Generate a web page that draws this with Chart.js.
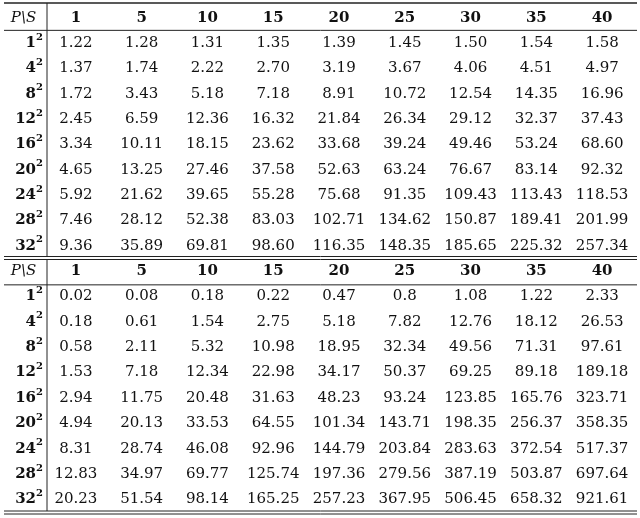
<!DOCTYPE html>
<html><head><meta charset="utf-8">
<script src="https://cdn.jsdelivr.net/npm/chart.js@4"></script>
<style>body{margin:0;background:#fff}#wrap{width:640px;height:518px}</style>
</head><body><div id="wrap"><canvas id="c"></canvas></div>
<script>
const columns = ["1", "5", "10", "15", "20", "25", "30", "35", "40"];
const rowBases = ["1", "4", "8", "12", "16", "20", "24", "28", "32"];
const table1 = [
  [1.22, 1.28, 1.31, 1.35, 1.39, 1.45, 1.50, 1.54, 1.58],
  [1.37, 1.74, 2.22, 2.70, 3.19, 3.67, 4.06, 4.51, 4.97],
  [1.72, 3.43, 5.18, 7.18, 8.91, 10.72, 12.54, 14.35, 16.96],
  [2.45, 6.59, 12.36, 16.32, 21.84, 26.34, 29.12, 32.37, 37.43],
  [3.34, 10.11, 18.15, 23.62, 33.68, 39.24, 49.46, 53.24, 68.60],
  [4.65, 13.25, 27.46, 37.58, 52.63, 63.24, 76.67, 83.14, 92.32],
  [5.92, 21.62, 39.65, 55.28, 75.68, 91.35, 109.43, 113.43, 118.53],
  [7.46, 28.12, 52.38, 83.03, 102.71, 134.62, 150.87, 189.41, 201.99],
  [9.36, 35.89, 69.81, 98.60, 116.35, 148.35, 185.65, 225.32, 257.34]
];
const table2 = [
  ["0.02", "0.08", "0.18", "0.22", "0.47", "0.8", "1.08", "1.22", "2.33"],
  ["0.18", "0.61", "1.54", "2.75", "5.18", "7.82", "12.76", "18.12", "26.53"],
  ["0.58", "2.11", "5.32", "10.98", "18.95", "32.34", "49.56", "71.31", "97.61"],
  ["1.53", "7.18", "12.34", "22.98", "34.17", "50.37", "69.25", "89.18", "189.18"],
  ["2.94", "11.75", "20.48", "31.63", "48.23", "93.24", "123.85", "165.76", "323.71"],
  ["4.94", "20.13", "33.53", "64.55", "101.34", "143.71", "198.35", "256.37", "358.35"],
  ["8.31", "28.74", "46.08", "92.96", "144.79", "203.84", "283.63", "372.54", "517.37"],
  ["12.83", "34.97", "69.77", "125.74", "197.36", "279.56", "387.19", "503.87", "697.64"],
  ["20.23", "51.54", "98.14", "165.25", "257.23", "367.95", "506.45", "658.32", "921.61"]
];

const yLabels = [];
["A", "B"].forEach(t => { yLabels.push(t + "h"); rowBases.forEach(r => yLabels.push(t + r)); });

const serif = "'DejaVu Serif', 'Liberation Serif', serif";

const tablePlugin = {
  id: "tableText",
  afterDraw(chart) {
    const ctx = chart.ctx, xs = chart.scales.x, ys = chart.scales.y;
    const X = i => xs.getPixelForValue(i);
    const Y = i => ys.getPixelForValue(i);
    const step = Y(1) - Y(0);
    const vx = xs.left + 4;
    ctx.save();
    ctx.fillStyle = "#111";
    ctx.textAlign = "center";
    ctx.textBaseline = "middle";
    [table1, table2].forEach((tbl, t) => {
      const base = t * 10;
      ctx.font = "italic 15px " + serif;
      ctx.fillText("P\\S", vx / 2, Y(base));
      ctx.font = "bold 15px " + serif;
      columns.forEach((c, j) => ctx.fillText(c, X(j), Y(base)));
      rowBases.forEach((r, i) => {
        const y = Y(base + 1 + i);
        ctx.font = "bold 15px " + serif;
        const w = ctx.measureText(r).width;
        ctx.font = "bold 10px " + serif;
        const w2 = ctx.measureText("2").width;
        const x0 = vx - 4 - w - w2;
        ctx.textAlign = "left";
        ctx.font = "bold 15px " + serif;
        ctx.fillText(r, x0, y);
        ctx.font = "bold 10px " + serif;
        ctx.fillText("2", x0 + w, y - 6);
        ctx.textAlign = "center";
        ctx.font = "15px " + serif;
        tbl[i].forEach((v, j) => {
          const s = typeof v === "number" ? v.toFixed(2) : v;
          ctx.fillText(s, X(j), y);
        });
      });
    });
    // rules
    ctx.strokeStyle = "#222";
    const hline = (y, w) => { ctx.lineWidth = w; ctx.beginPath(); ctx.moveTo(4, y); ctx.lineTo(637, y); ctx.stroke(); };
    hline(Y(0) - step / 2 - 2, 1.5);
    hline(Y(0) + step / 2, 1);
    hline(Y(10) - step / 2 - 2, 1);
    hline(Y(10) - step / 2 + 1, 1);
    hline(Y(10) + step / 2 + 1, 1);
    hline(Y(19) + step / 2 - 1, 1);
    hline(Y(19) + step / 2 + 2, 1);
    ctx.lineWidth = 1;
    ctx.beginPath();
    ctx.moveTo(vx, Y(0) - step / 2 - 2);
    ctx.lineTo(vx, Y(10) - step / 2 - 2);
    ctx.moveTo(vx, Y(10) - step / 2 + 1);
    ctx.lineTo(vx, Y(19) + step / 2 - 1);
    ctx.stroke();
    ctx.restore();
  }
};

new Chart(document.getElementById("c"), {
  type: "scatter",
  data: { datasets: [{ data: [], pointRadius: 0 }] },
  options: {
    responsive: true,
    maintainAspectRatio: false,
    animation: false,
    layout: { padding: { top: 5, bottom: 6, left: 43, right: 5 } },
    plugins: { legend: { display: false }, tooltip: { enabled: false } },
    scales: {
      x: { type: "category", labels: columns, offset: true, display: false },
      y: { type: "category", labels: yLabels, offset: true, display: false }
    }
  },
  plugins: [tablePlugin]
});
</script>
</body></html>
